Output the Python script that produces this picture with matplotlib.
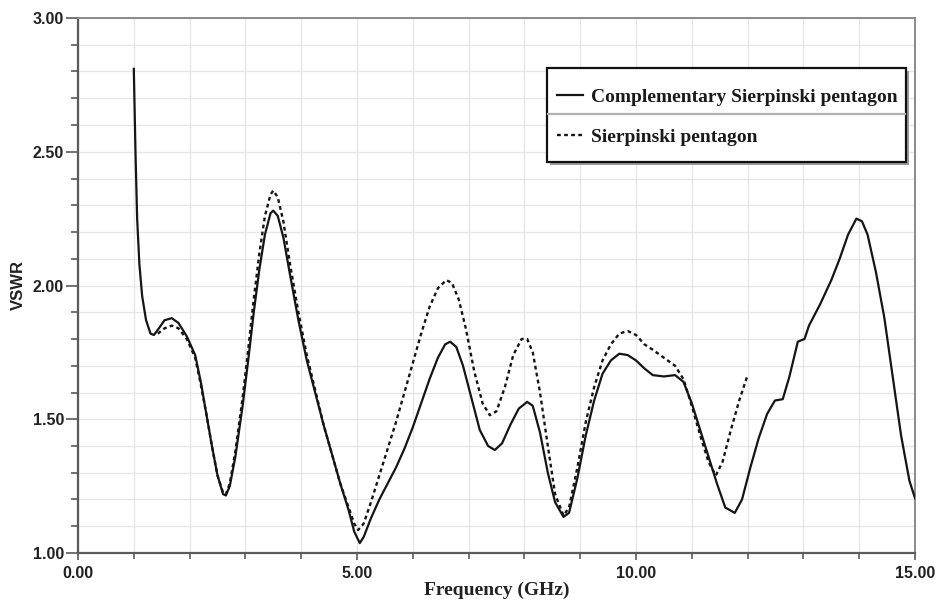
import matplotlib
matplotlib.use("Agg")
import matplotlib.pyplot as plt
from matplotlib.lines import Line2D
from matplotlib.patches import Rectangle
from matplotlib.ticker import MultipleLocator, FormatStrFormatter

# ---- data ----
freq_comp = [1.00, 1.03, 1.06, 1.10, 1.15, 1.22, 1.30, 1.36, 1.45, 1.55, 1.68, 1.80, 1.95,
             2.10, 2.20, 2.30, 2.40, 2.50, 2.60, 2.65, 2.72, 2.82, 2.95, 3.05, 3.15, 3.25,
             3.35, 3.45, 3.50, 3.58, 3.68, 3.80, 3.95, 4.10, 4.25, 4.40, 4.55, 4.70, 4.85,
             4.95, 5.05, 5.12, 5.25, 5.40, 5.55, 5.70, 5.85, 6.00, 6.15, 6.30, 6.45, 6.58,
             6.67, 6.78, 6.90, 7.05, 7.20, 7.35, 7.47, 7.60, 7.75, 7.90, 8.05, 8.15, 8.28,
             8.42, 8.55, 8.70, 8.80, 8.95, 9.10, 9.25, 9.40, 9.55, 9.70, 9.85, 10.00, 10.15,
             10.30, 10.50, 10.70, 10.85, 11.00, 11.15, 11.30, 11.45, 11.60, 11.77, 11.90,
             12.05, 12.20, 12.35, 12.49, 12.63, 12.75, 12.90, 13.02, 13.10, 13.30, 13.50,
             13.65, 13.80, 13.95, 14.05, 14.15, 14.30, 14.45, 14.60, 14.75, 14.90, 15.00]
vswr_comp = [2.81, 2.50, 2.25, 2.08, 1.96, 1.87, 1.82, 1.815, 1.84, 1.87, 1.878, 1.86, 1.81,
             1.74, 1.64, 1.52, 1.40, 1.29, 1.22, 1.215, 1.25, 1.36, 1.55, 1.72, 1.90, 2.06,
             2.19, 2.27, 2.28, 2.26, 2.18, 2.04, 1.87, 1.72, 1.60, 1.48, 1.37, 1.26, 1.16,
             1.08, 1.037, 1.06, 1.13, 1.20, 1.26, 1.32, 1.39, 1.47, 1.56, 1.65, 1.73, 1.78,
             1.79, 1.77, 1.70, 1.58, 1.46, 1.40, 1.385, 1.41, 1.48, 1.54, 1.565, 1.55, 1.45,
             1.30, 1.19, 1.135, 1.15, 1.28, 1.44, 1.57, 1.67, 1.72, 1.745, 1.74, 1.72, 1.69,
             1.665, 1.66, 1.665, 1.64, 1.56, 1.46, 1.36, 1.26, 1.17, 1.15, 1.20,
             1.32, 1.43, 1.52, 1.57, 1.575, 1.66, 1.79, 1.80, 1.85, 1.93, 2.02,
             2.10, 2.19, 2.25, 2.24, 2.19, 2.05, 1.88, 1.66, 1.44, 1.27, 1.205]

freq_sier = [1.43, 1.55, 1.68, 1.80, 1.95, 2.10, 2.20, 2.30, 2.40, 2.50, 2.60, 2.65, 2.72,
             2.82, 2.95, 3.05, 3.15, 3.25, 3.35, 3.45, 3.50, 3.58, 3.68, 3.80, 3.95, 4.10,
             4.25, 4.40, 4.55, 4.70, 4.85, 4.95, 5.02, 5.12, 5.25, 5.40, 5.55, 5.70, 5.85,
             6.00, 6.15, 6.30, 6.45, 6.60, 6.70, 6.82, 6.95, 7.10, 7.25, 7.38, 7.50, 7.65,
             7.80, 7.95, 8.05, 8.15, 8.28, 8.42, 8.55, 8.70, 8.80, 8.95, 9.10, 9.25, 9.40,
             9.55, 9.70, 9.85, 10.00, 10.15, 10.30, 10.50, 10.70, 10.85, 11.00, 11.15, 11.30,
             11.43, 11.55, 11.70, 11.85, 12.00]
vswr_sier = [1.82, 1.84, 1.85, 1.84, 1.80, 1.73, 1.63, 1.52, 1.40, 1.29, 1.225, 1.22, 1.26,
             1.38, 1.58, 1.76, 1.95, 2.12, 2.26, 2.34, 2.355, 2.33, 2.24, 2.08, 1.90, 1.74,
             1.61, 1.48, 1.37, 1.26, 1.17, 1.11, 1.086, 1.11, 1.19, 1.29, 1.39, 1.49, 1.60,
             1.71, 1.82, 1.92, 1.99, 2.02, 2.01, 1.95, 1.84, 1.68, 1.56, 1.515, 1.53, 1.62,
             1.74, 1.80, 1.80, 1.75, 1.60, 1.40, 1.22, 1.14, 1.17, 1.32, 1.49, 1.62, 1.72,
             1.78, 1.82, 1.83, 1.815, 1.78, 1.76, 1.73, 1.70, 1.65, 1.55, 1.44, 1.34,
             1.29, 1.34, 1.46, 1.57, 1.665]

label_comp = "Complementary Sierpinski pentagon"
label_sier = "Sierpinski pentagon"

W, H = 937, 602
fig = plt.figure(figsize=(W/100, H/100), dpi=100)
ax = fig.add_axes([78/W, 1-553/H, (915-78)/W, (553-18)/H])

line_col = "#151515"
ax.plot(freq_comp, vswr_comp, color=line_col, lw=1.6, solid_joinstyle="round",
        label=label_comp, zorder=3)
ax.plot(freq_sier, vswr_sier, color=line_col, lw=1.7, linestyle=(0, (1.6, 1.4)),
        label=label_sier, zorder=3)

ax.set_xlim(0, 15)
ax.set_ylim(1.0, 3.0)
ax.xaxis.set_major_locator(MultipleLocator(5))
ax.xaxis.set_minor_locator(MultipleLocator(1))
ax.yaxis.set_major_locator(MultipleLocator(0.5))
ax.yaxis.set_minor_locator(MultipleLocator(0.1))
ax.xaxis.set_major_formatter(FormatStrFormatter("%.2f"))
ax.yaxis.set_major_formatter(FormatStrFormatter("%.2f"))

ax.grid(True, which="both", color="#e6e6e6", lw=1.0, zorder=0)
ax.set_axisbelow(True)

spine_col = "#5a5a5a"
for s in ["left", "bottom"]:
    ax.spines[s].set_color(spine_col)
    ax.spines[s].set_linewidth(1.6)
for s in ["top", "right"]:
    ax.spines[s].set_color("#8a8a8a")
    ax.spines[s].set_linewidth(1.4)

ax.tick_params(axis="y", which="major", length=9, width=1.2, color=spine_col, pad=1)
ax.tick_params(axis="y", which="minor", length=5, width=1.2, color=spine_col)
ax.tick_params(axis="x", which="major", length=5, width=1.2, color=spine_col, pad=4)
ax.tick_params(axis="x", which="minor", length=4, width=1.2, color=spine_col)

for lab in ax.get_xticklabels() + ax.get_yticklabels():
    lab.set_fontfamily("Liberation Sans")
    lab.set_fontweight("bold")
    lab.set_fontsize(11.5)
    lab.set_color("#222222")

ax.set_xlabel("Frequency (GHz)", fontfamily="Liberation Serif", fontweight="bold",
              fontsize=14, color="#222222", labelpad=1)
ax.set_ylabel("VSWR", fontfamily="Liberation Sans", fontweight="bold",
              fontsize=12, color="#222222", labelpad=5)

# legend box (frame + shadow + divider), in figure pixel coordinates
bx0, by0, bx1, by1 = 547, 68, 906, 162
shadow = Rectangle((bx0/W + 3/W, 1-by1/H - 3/H), (bx1-bx0)/W, (by1-by0)/H,
                   transform=fig.transFigure, facecolor="#9a9a9a", edgecolor="none",
                   zorder=6, clip_on=False)
frame = Rectangle((bx0/W, 1-by1/H), (bx1-bx0)/W, (by1-by0)/H,
                  transform=fig.transFigure, facecolor="white", edgecolor="#111111",
                  lw=1.6, zorder=7, clip_on=False)
ax.add_patch(shadow)
ax.add_patch(frame)
divider = Line2D([(bx0+1)/W, (bx1-1)/W], [1-114/H, 1-114/H], transform=fig.transFigure,
                 color="#b0b0b0", lw=1.6, zorder=8, clip_on=False)
ax.add_line(divider)

leg = ax.legend(loc="upper left", bbox_to_anchor=(557/W, 1-88/H),
                bbox_transform=fig.transFigure, frameon=False,
                prop={"family": "Liberation Serif", "weight": "bold", "size": 14},
                handlelength=1.35, handletextpad=0.4, borderpad=0,
                labelspacing=1.15, borderaxespad=0)
leg.set_zorder(10)
for t in leg.get_texts():
    t.set_color("#1a1a1a")

fig.savefig("out.png", dpi=100)
